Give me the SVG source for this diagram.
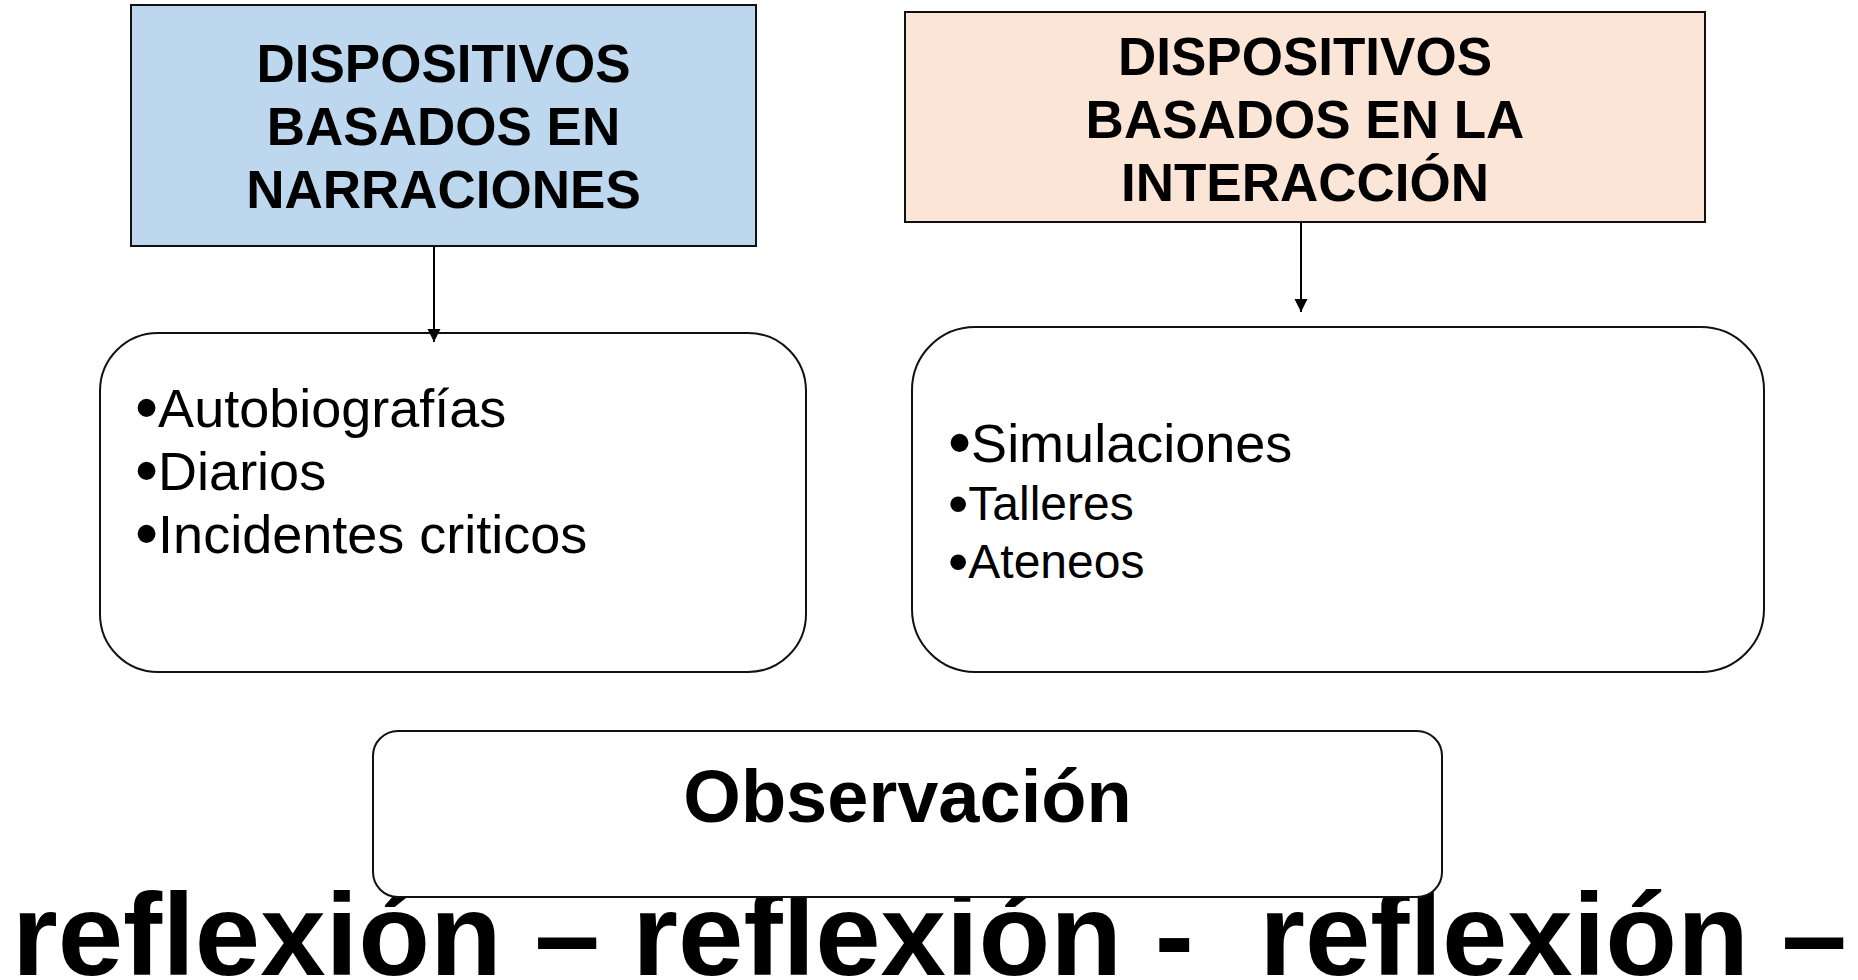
<svg xmlns="http://www.w3.org/2000/svg" width="1858" height="980" viewBox="0 0 1858 980">
<style>
text{font-family:"Liberation Sans",Arial,sans-serif;fill:#000}
.hdr{font-size:53px;font-weight:bold;text-anchor:middle}
.item{font-size:54px}
.small{font-size:48px}
.bul{font-size:66px}
.box{stroke:#111;stroke-width:2}
.conn{stroke:#000;stroke-width:2;fill:none}
</style>
<defs>
<marker id="ah" markerUnits="userSpaceOnUse" markerWidth="14" markerHeight="14" refX="13" refY="6.5" orient="auto">
<path d="M0,0 L13,6.5 L0,13 z" fill="#000"/>
</marker>
</defs>
<rect width="1858" height="980" fill="#fff"/>
<text id="reflexion" x="12" y="975" xml:space="preserve" style="font-size:117.5px;font-weight:bold">reflexión – reflexión -  reflexión –</text>
<g id="narraciones">
<rect class="box" x="131" y="5" width="625" height="241" fill="#BDD7EE"/>
<text class="hdr" x="443.5" y="82">DISPOSITIVOS</text>
<text class="hdr" x="443.5" y="145">BASADOS EN</text>
<text class="hdr" x="443.5" y="208">NARRACIONES</text>
</g>
<g id="interaccion">
<rect class="box" x="905" y="12" width="800" height="210" fill="#FBE5D6"/>
<text class="hdr" x="1305" y="75">DISPOSITIVOS</text>
<text class="hdr" x="1305" y="138">BASADOS EN LA</text>
<text class="hdr" x="1305" y="201">INTERACCIÓN</text>
</g>
<g id="lista-narraciones">
<rect class="box" x="100" y="333" width="706" height="339" rx="58" ry="58" fill="#fff"/>
<text class="item" x="135" y="427"><tspan class="bul" dy="3">•</tspan><tspan dy="-3">Autobiografías</tspan></text>
<text class="item" x="135" y="490"><tspan class="bul" dy="3">•</tspan><tspan dy="-3">Diarios</tspan></text>
<text class="item" x="135" y="553"><tspan class="bul" dy="3">•</tspan><tspan dy="-3">Incidentes criticos</tspan></text>
</g>
<g id="lista-interaccion">
<rect class="box" x="912" y="327" width="852" height="345" rx="63" ry="63" fill="#fff"/>
<text class="item" x="948" y="462"><tspan class="bul" dy="3">•</tspan><tspan dy="-3">Simulaciones</tspan></text>
<text class="small" x="948" y="520"><tspan class="bul" dy="3" style="font-size:58px">•</tspan><tspan dy="-3">Talleres</tspan></text>
<text class="small" x="948" y="578"><tspan class="bul" dy="3" style="font-size:58px">•</tspan><tspan dy="-3">Ateneos</tspan></text>
</g>
<g id="observacion">
<rect class="box" x="373" y="731" width="1069" height="166" rx="25" ry="25" fill="#fff"/>
<text x="907.5" y="822" style="font-size:74px;font-weight:bold;text-anchor:middle">Observación</text>
</g>
<g id="connectors">
<line class="conn" x1="434" y1="246" x2="434" y2="342" marker-end="url(#ah)"/>
<line class="conn" x1="1301" y1="222" x2="1301" y2="312" marker-end="url(#ah)"/>
</g>
</svg>
